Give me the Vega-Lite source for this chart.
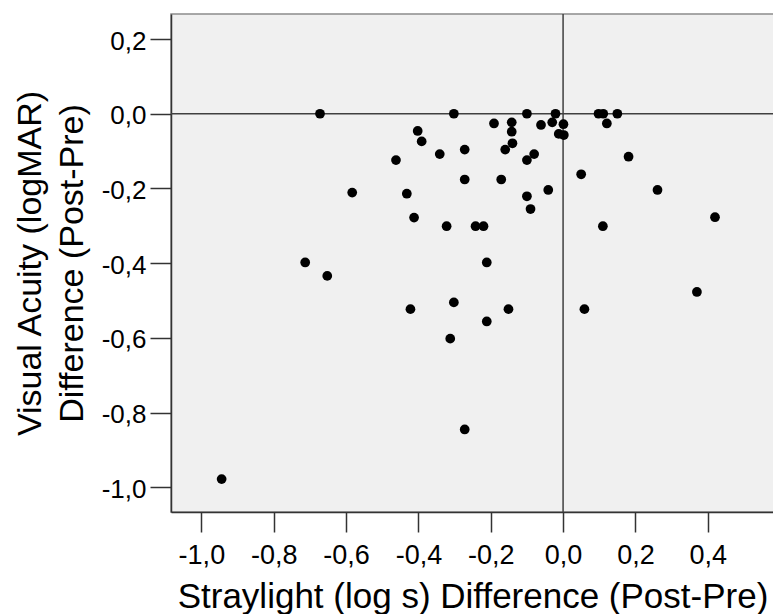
{
  "$schema": "https://vega.github.io/schema/vega-lite/v6.json",
  "width": 612,
  "height": 498,
  "autosize": {"type": "none"},
  "padding": {"left": 171, "top": 14, "right": 0, "bottom": 102},
  "background": "white",
  "config": {
    "font": "Liberation Sans, Arial, sans-serif",
    "view": {"fill": "#f0f0f0", "stroke": "#8c8c8c", "strokeWidth": 1.5},
    "axisX": {
      "domainColor": "#333333", "domainWidth": 1.5,
      "tickColor": "#333333", "tickWidth": 1.5, "tickSize": 20,
      "labelColor": "black", "labelBaseline": "alphabetic", "labelPadding": 31,
      "grid": false,
      "titleFontWeight": "normal", "titleColor": "black",
      "titleX": 301.5, "titleY": 95, "titleBaseline": "alphabetic", "titleAlign": "center",
      "labelFlush": false, "labelOverlap": false
    },
    "axisY": {
      "domainColor": "#333333", "domainWidth": 1.5,
      "tickColor": "#333333", "tickWidth": 1.5, "tickSize": 21,
      "labelColor": "black", "labelBaseline": "alphabetic", "labelOffset": 10, "labelPadding": 4,
      "grid": false,
      "titleFontWeight": "normal", "titleColor": "black",
      "titleAngle": -90, "titleX": -131, "titleY": 249, "titleAlign": "center", "titleBaseline": "alphabetic", "titleLineHeight": 42,
      "labelFlush": false, "labelOverlap": false
    }
  },
  "datasets": {
    "points": [
      {"straylight": -0.672, "va": 0},
      {"straylight": -0.302, "va": 0},
      {"straylight": -0.402, "va": -0.046},
      {"straylight": -0.391, "va": -0.074},
      {"straylight": -0.462, "va": -0.124},
      {"straylight": -0.341, "va": -0.108},
      {"straylight": -0.272, "va": -0.096},
      {"straylight": -0.272, "va": -0.176},
      {"straylight": -0.583, "va": -0.211},
      {"straylight": -0.432, "va": -0.214},
      {"straylight": -0.412, "va": -0.278},
      {"straylight": -0.322, "va": -0.301},
      {"straylight": -0.100, "va": 0},
      {"straylight": -0.021, "va": 0},
      {"straylight": 0.098, "va": 0},
      {"straylight": 0.111, "va": 0},
      {"straylight": 0.150, "va": 0},
      {"straylight": -0.191, "va": -0.026},
      {"straylight": -0.142, "va": -0.023},
      {"straylight": -0.142, "va": -0.048},
      {"straylight": -0.140, "va": -0.079},
      {"straylight": -0.160, "va": -0.096},
      {"straylight": -0.061, "va": -0.030},
      {"straylight": -0.030, "va": -0.023},
      {"straylight": 0.001, "va": -0.028},
      {"straylight": -0.012, "va": -0.054},
      {"straylight": 0.002, "va": -0.057},
      {"straylight": 0.121, "va": -0.026},
      {"straylight": -0.080, "va": -0.108},
      {"straylight": -0.100, "va": -0.124},
      {"straylight": 0.181, "va": -0.115},
      {"straylight": -0.171, "va": -0.176},
      {"straylight": 0.050, "va": -0.162},
      {"straylight": -0.041, "va": -0.204},
      {"straylight": -0.100, "va": -0.221},
      {"straylight": -0.090, "va": -0.255},
      {"straylight": 0.261, "va": -0.204},
      {"straylight": -0.242, "va": -0.301},
      {"straylight": -0.220, "va": -0.301},
      {"straylight": 0.110, "va": -0.301},
      {"straylight": 0.420, "va": -0.277},
      {"straylight": -0.211, "va": -0.398},
      {"straylight": -0.713, "va": -0.398},
      {"straylight": -0.652, "va": -0.434},
      {"straylight": -0.422, "va": -0.523},
      {"straylight": -0.302, "va": -0.505},
      {"straylight": -0.312, "va": -0.602},
      {"straylight": -0.272, "va": -0.845},
      {"straylight": -0.944, "va": -0.978},
      {"straylight": -0.151, "va": -0.523},
      {"straylight": -0.211, "va": -0.556},
      {"straylight": 0.059, "va": -0.523},
      {"straylight": 0.370, "va": -0.477}
    ],
    "refx": [{"straylight": 0}],
    "refy": [{"va": 0}]
  },
  "layer": [
    {
      "data": {"name": "refx"},
      "mark": {"type": "rule", "color": "#404040", "strokeWidth": 1.5},
      "encoding": {
        "x": {"field": "straylight", "type": "quantitative", "title": "Straylight (log s) Difference (Post-Pre)",
              "scale": {"domain": [-1.084, 0.608], "nice": false, "zero": false},
              "axis": {"values": [-1.0, -0.8, -0.6, -0.4, -0.2, 0, 0.2, 0.4], "labelFontSize": 27, "titleFontSize": 35,
                       "labelExpr": "(datum.value < -0.0001 ? '-' : '') + replace(format(abs(datum.value), '.1f'), '.', ',')"}}
      }
    },
    {
      "data": {"name": "refy"},
      "mark": {"type": "rule", "color": "#404040", "strokeWidth": 1.5},
      "encoding": {
        "y": {"field": "va", "type": "quantitative", "title": ["Visual Acuity (logMAR)", "Difference (Post-Pre)"],
              "scale": {"domain": [-1.066, 0.267], "nice": false, "zero": false},
              "axis": {"values": [0.2, 0, -0.2, -0.4, -0.6, -0.8, -1.0], "labelFontSize": 26, "titleFontSize": 34,
                       "labelExpr": "(datum.value < -0.0001 ? '-' : '') + replace(format(abs(datum.value), '.1f'), '.', ',')"}}
      }
    },
    {
      "data": {"name": "points"},
      "mark": {"type": "circle", "size": 95, "color": "black", "opacity": 1},
      "encoding": {
        "x": {"field": "straylight", "type": "quantitative", "title": "Straylight (log s) Difference (Post-Pre)",
              "scale": {"domain": [-1.084, 0.608], "nice": false, "zero": false},
              "axis": {"values": [-1.0, -0.8, -0.6, -0.4, -0.2, 0, 0.2, 0.4], "labelFontSize": 27, "titleFontSize": 35,
                       "labelExpr": "(datum.value < -0.0001 ? '-' : '') + replace(format(abs(datum.value), '.1f'), '.', ',')"}},
        "y": {"field": "va", "type": "quantitative", "title": ["Visual Acuity (logMAR)", "Difference (Post-Pre)"],
              "scale": {"domain": [-1.066, 0.267], "nice": false, "zero": false},
              "axis": {"values": [0.2, 0, -0.2, -0.4, -0.6, -0.8, -1.0], "labelFontSize": 26, "titleFontSize": 34,
                       "labelExpr": "(datum.value < -0.0001 ? '-' : '') + replace(format(abs(datum.value), '.1f'), '.', ',')"}}
      }
    }
  ]
}
